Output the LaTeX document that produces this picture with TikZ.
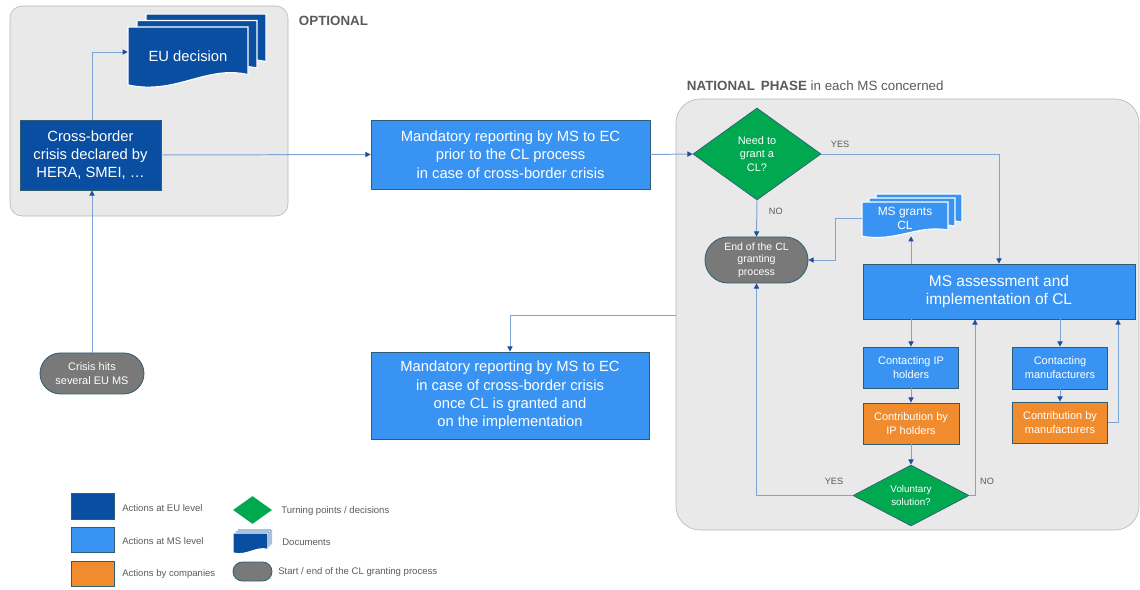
\documentclass[tikz,border=0pt]{standalone}
\usepackage{fontspec}
\setmainfont{Liberation Sans}
\usetikzlibrary{positioning}
\usetikzlibrary{arrows.meta}
\usetikzlibrary{shapes.geometric,shapes.misc}

\definecolor{eublue}{HTML}{0A4EA2}
\definecolor{msblue}{HTML}{3893F3}
\definecolor{coorange}{HTML}{F08C2E}
\definecolor{turngreen}{HTML}{00A850}
\definecolor{endgray}{HTML}{797979}
\definecolor{panelgray}{HTML}{E9E9E9}
\definecolor{panelline}{HTML}{B4B4B4}
\definecolor{linkblue}{HTML}{7EA4D6}
\definecolor{tipblue}{HTML}{1D4F9C}
\definecolor{labelgray}{HTML}{5A5A5A}
\definecolor{boxline}{HTML}{2F5E72}

\def\u{0.025cm}
% one sheet of a document stack: x, y (top left), width, height, colour
\newcommand\docsheet[5]{%
  \filldraw[draw=white, line width=0.8pt, fill=#5] (#1,#2) -- ({#1+#3},#2) -- ({#1+#3},{#2+0.78*#4})
    .. controls ({#1+0.65*#3},{#2+0.62*#4}) and ({#1+0.4*#3},{#2+1.12*#4}) .. (#1,{#2+0.95*#4}) -- cycle;}
% three sheets: x, y, width, height, dx, dy, colour
\newcommand\docstack[7]{%
  \docsheet{#1+2*#5}{#2+2*#6}{#3}{#4}{#7}
  \docsheet{#1+#5}{#2+#6}{#3}{#4}{#7}
  \docsheet{#1}{#2}{#3}{#4}{#7}}

\begin{document}
\begin{tikzpicture}[x=\u, y=-\u,
    box/.style={rectangle, draw=boxline, line width=0.6pt, text=white, align=center, inner sep=0pt},
    eubox/.style={box, fill=eublue},
    msbox/.style={box, fill=msblue},
    cobox/.style={box, fill=coorange},
    pill/.style={rounded rectangle, draw=boxline, line width=0.6pt, fill=endgray, text=white, align=center, inner sep=0pt},
    turn/.style={diamond, draw=boxline, line width=0.5pt, fill=turngreen, text=white, align=center, inner sep=0pt},
    link/.style={draw=linkblue, line width=0.7pt, -{Triangle[length=1.3mm,width=1.3mm,color=tipblue]}},
    yn/.style={text=labelgray, font=\fontsize{6.5}{7}\selectfont},
    legend/.style={text=labelgray, font=\fontsize{6.8}{8}\selectfont, anchor=west, inner sep=0pt},
    big/.style={font=\fontsize{10.5}{13}\selectfont},
    small/.style={font=\fontsize{7.8}{10}\selectfont}]
  \useasboundingbox (0,0) rectangle (1140,590);

  % panels
  \draw[panelline, fill=panelgray, rounded corners=0.3cm] (10,6) rectangle (288,216);
  \node[anchor=west, text=labelgray, font=\fontsize{9.5}{11}\selectfont\bfseries] (opttitle) at (294,21) {OPTIONAL};
  \draw[panelline, fill=panelgray, rounded corners=0.6cm] (676,99) rectangle (1139,530);
  \node[anchor=base west, text=labelgray, font=\fontsize{9.5}{11}\selectfont] (natltitle) at (682,91) {\textbf{NATIONAL\, PHASE} in each MS concerned};
  \coordinate (natlleft) at (676,315);

  % EU level
  \docstack{128}{27}{120}{61}{9}{-6.5}{eublue}
  \node[big, text=white, minimum width=120*\u, minimum height=50*\u] (eudec) at (188,56) {EU decision};
  \node[eubox, big, minimum width=141*\u, minimum height=70*\u] (crossborder) at (90.5,155) {Cross-border\\crisis declared by\\HERA, SMEI, \dots};
  \node[pill, small, minimum width=104*\u, minimum height=41*\u] (crisis) at (92,373.5) {Crisis hits\\several EU MS};

  % reporting
  \node[msbox, big, minimum width=279*\u, minimum height=69*\u] (report1) at (510.5,154.5) {Mandatory reporting by MS to EC\\prior to the CL process\\in case of cross-border crisis};
  \node[msbox, big, minimum width=278*\u, minimum height=87*\u] (report2) at (510,395.5) {Mandatory reporting by MS to EC\\in case of cross-border crisis\\once CL is granted and\\on the implementation};

  % national phase
  \node[turn, font=\fontsize{7.8}{9.8}\selectfont, minimum width=128*\u, minimum height=92*\u] (needcl) at (757,154) {Need to\\grant a\\CL?};
  \node[pill, font=\fontsize{7.5}{8.8}\selectfont, minimum width=103*\u, minimum height=46*\u] (endcl) at (756.5,260) {End of the CL\\granting\\process};
  \docstack{862}{202}{86}{36}{7}{-4}{msblue}
  \node[font=\fontsize{8.5}{10}\selectfont, text=white, align=center, minimum width=86*\u, minimum height=36*\u] (msgrants) at (905,218) {MS grants\\CL};
  \node[msbox, font=\fontsize{11}{13.5}\selectfont, minimum width=272*\u, minimum height=55*\u] (assess) at (999,291.5) {MS assessment and\\implementation of CL};
  \node[msbox, small, minimum width=95*\u, minimum height=41*\u] (contip) at (911,367.5) {Contacting IP\\holders};
  \node[cobox, small, minimum width=96*\u, minimum height=41*\u] (contribip) at (911,423.5) {Contribution by\\IP holders};
  \node[turn, font=\fontsize{7}{9}\selectfont, minimum width=116*\u, minimum height=47*\u] (voluntary) at (911,495.5) {Voluntary\\solution?};
  \node[msbox, small, minimum width=95*\u, minimum height=42*\u] (contman) at (1060,368) {Contacting\\manufacturers};
  \node[cobox, small, minimum width=95*\u, minimum height=41*\u] (contribman) at (1060,422.5) {Contribution by\\manufacturers};

  % connectors
  \draw[link] (crisis.north) -- (crisis.north |- crossborder.south);
  \draw[link] (crossborder.north -| crisis.north) |- ([yshift=0.1cm]eudec.west);
  \draw[link] (crossborder.east) -- (report1.west);
  \draw[link] (report1.east) -- (needcl.west);
  \draw[link] (needcl.east) -| (assess.north);
  \node[yn, anchor=south west] (yes1) at (826,153) {YES};
  \draw[link] (needcl.south) -- (endcl.north);
  \node[yn, anchor=west] (no1) at (764,211) {NO};
  \draw[link] (contip |- assess.north) -- (contip |- msgrants.south);
  \draw[link] (msgrants.west) -- ++(-26,0) |- (endcl.east);
  \draw[link] (contip |- assess.south) -- (contip.north);
  \draw[link] (contip.south) -- (contribip.north);
  \draw[link] (contribip.south) -- (voluntary.north);
  \draw[link] (voluntary.west) -| (endcl.south);
  \node[yn, anchor=south] (yes2) at (834,490) {YES};
  \draw[link] (voluntary.east) -| ([xshift=-0.6cm]assess.south);
  \node[yn, anchor=south] (no2) at (987,490) {NO};
  \draw[link] (contman |- assess.south) -- (contman.north);
  \draw[link] (contman.south) -- (contribman.north);
  \draw[link] (contribman.east) -| ([xshift=2.975cm]assess.south);
  \draw[link] (natlleft) -| (report2.north);

  % legend
  \node[eubox, minimum width=43*\u, minimum height=26*\u] (legeu) at (92.5,506) {};
  \node[legend] (legeutext) at (122,508) {Actions at EU level};
  \node[msbox, minimum width=43*\u, minimum height=25*\u] (legms) at (92.5,539.5) {};
  \node[legend] (legmstext) at (122,541) {Actions at MS level};
  \node[cobox, minimum width=43*\u, minimum height=25*\u] (legco) at (92.5,573.5) {};
  \node[legend] (legcotext) at (122,574) {Actions by companies};
  \node[turn, draw=none, minimum width=39*\u, minimum height=28*\u] (legturn) at (252.5,510) {};
  \node[legend] (legturntext) at (281,511) {Turning points / decisions};
  \docstack{233}{533}{35}{21}{2}{-2}{eublue}
  \node[legend] (legdoctext) at (282,542) {Documents};
  \node[pill, minimum width=39*\u, minimum height=19*\u] (legpill) at (252.5,571.5) {};
  \node[legend] (legpilltext) at (278,572) {Start / end of the CL granting process};
\end{tikzpicture}
\end{document}
